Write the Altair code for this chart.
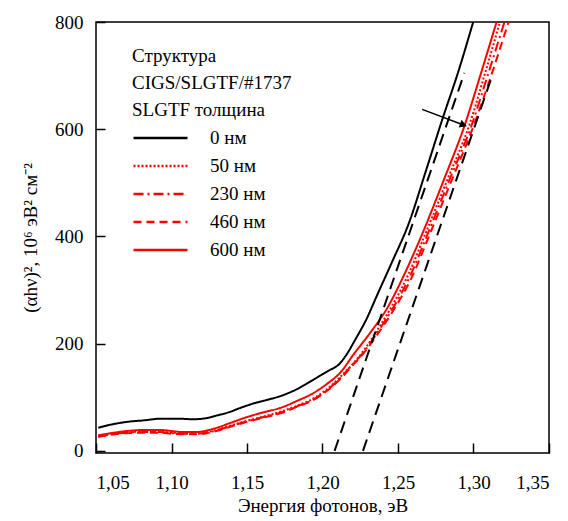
import math
import altair as alt
import pandas as pd

FONT = "Liberation Serif"
W, H = 453, 431
X_DOMAIN = [1.05, 1.35]
Y_DOMAIN = [-4, 800]

# Series definitions (legend order)
series_names = ["0 нм", "50 нм", "230 нм", "460 нм", "600 нм"]
series_colors = ["#000000", "#ff0000", "#ff0000", "#ff0000", "#ff0000"]
series_dashes = [[1, 0], [2, 2], [10, 4, 2, 4], [8, 5], [1, 0]]

# (alpha*h*nu)^2 vs photon energy for each SLGTF thickness
E_0 = [1.0515, 1.060, 1.0704, 1.082, 1.0924, 1.104, 1.1145, 1.123, 1.130, 1.138,
       1.1455, 1.155, 1.163, 1.172, 1.183, 1.1941, 1.203, 1.2118, 1.216, 1.2218,
       1.229, 1.2361, 1.246, 1.2571, 1.268, 1.2792, 1.290, 1.2998]
v_0 = [43, 49, 54, 57, 60, 60, 59, 61, 66, 72,
       80, 89, 95, 102, 115, 133, 148, 164, 180, 208,
       245, 290, 352, 424, 518, 617, 708, 800]

E_50 = [1.0515, 1.060, 1.0704, 1.082, 1.0924, 1.100, 1.1079, 1.116, 1.1234, 1.131,
        1.1389, 1.150, 1.161, 1.172, 1.183, 1.1941, 1.203, 1.2118, 1.2218, 1.2251,
        1.238, 1.246, 1.257, 1.268, 1.283, 1.2975, 1.3075, 1.3175]
v_50 = [28, 32, 35, 36, 35, 34, 33, 33, 35, 40,
        47, 56, 64, 73, 84, 98, 115, 138, 168, 179,
        233, 270, 330, 404, 508, 610, 703, 800]

E_230 = [1.0515, 1.060, 1.0704, 1.082, 1.0924, 1.100, 1.1079, 1.116, 1.1234, 1.131,
         1.1389, 1.150, 1.161, 1.172, 1.183, 1.1941, 1.203, 1.2118, 1.2218, 1.2251,
         1.239, 1.247, 1.258, 1.269, 1.284, 1.2987, 1.309, 1.3205]
v_230 = [27, 31, 34, 35, 35, 33, 32, 32, 34, 39,
         46, 55, 63, 71, 83, 96, 113, 136, 167, 177,
         232, 268, 326, 400, 505, 607, 697, 800]

E_460 = [1.0515, 1.060, 1.0704, 1.082, 1.0924, 1.100, 1.1079, 1.116, 1.1234, 1.131,
         1.1389, 1.150, 1.161, 1.172, 1.183, 1.1941, 1.203, 1.2118, 1.2218, 1.2251,
         1.2395, 1.2478, 1.259, 1.270, 1.285, 1.2995, 1.3105, 1.3232]
v_460 = [26, 30, 33, 34, 34, 32, 31, 31, 33, 38,
         45, 54, 62, 70, 82, 95, 112, 134, 165, 175,
         230, 266, 323, 397, 501, 602, 690, 800]

E_600 = [1.0515, 1.060, 1.0704, 1.082, 1.0924, 1.100, 1.1079, 1.116, 1.1234, 1.131,
         1.1389, 1.150, 1.161, 1.172, 1.183, 1.1941, 1.203, 1.2118, 1.2206, 1.231,
         1.2428, 1.254, 1.2649, 1.280, 1.2947, 1.3048, 1.3153]
v_600 = [29, 33, 37, 39, 39, 37, 35, 35, 38, 44,
         52, 63, 72, 80, 93, 108, 125, 146, 180, 218,
         266, 328, 397, 503, 612, 703, 800]

# Linear extrapolations of the absorption edge (band-gap estimates)
tangent_E = [[1.208, 1.294], [1.2268, 1.3124]]
tangent_v = [[0, 705], [0, 700]]

# Arrow marking the shift with increasing thickness
arrow_E = [1.266, 1.2934]
arrow_v = [637, 608]

x_ticks = [1.05, 1.10, 1.15, 1.20, 1.25, 1.30, 1.35]
y_ticks = [0, 200, 400, 600, 800]

series_E = [E_0, E_50, E_230, E_460, E_600]
series_v = [v_0, v_50, v_230, v_460, v_600]

rows = []
for name, xs, ys in zip(series_names, series_E, series_v):
    for i, (e, v) in enumerate(zip(xs, ys)):
        rows.append({"series": name, "E": e, "v": v, "i": i})
curves_df = pd.DataFrame(rows)

tan_rows = []
for k, (xs, ys) in enumerate(zip(tangent_E, tangent_v)):
    for i, (e, v) in enumerate(zip(xs, ys)):
        tan_rows.append({"line": k, "E": e, "v": v, "i": i})
tan_df = pd.DataFrame(tan_rows)

arrow_df = pd.DataFrame({"E": arrow_E, "v": arrow_v, "i": [0, 1]})
head_df = arrow_df.iloc[[1]]

# arrow head orientation in screen space
dx = (arrow_E[1] - arrow_E[0]) / (X_DOMAIN[1] - X_DOMAIN[0]) * W
dy = -(arrow_v[1] - arrow_v[0]) / (Y_DOMAIN[1] - Y_DOMAIN[0]) * H
head_angle = math.degrees(math.atan2(dy, dx))

x_scale = alt.Scale(domain=X_DOMAIN, nice=False, zero=False)
y_scale = alt.Scale(domain=Y_DOMAIN, nice=False, zero=False)

label_expr = "replace(format(datum.value, '.2f'), '.', ',')"

# Legend swatch: a horizontal stroke drawn from the left edge of the entry
legend = alt.Legend(
    title=["Структура", "CIGS/SLGTF/#1737", "SLGTF толщина"],
    orient="none",
    legendX=36,
    legendY=25,
    padding=0,
    titleFont=FONT,
    titleFontSize=19,
    titleFontWeight="normal",
    titleColor="black",
    titleLineHeight=27,
    titlePadding=3,
    labelFont=FONT,
    labelFontSize=19,
    labelColor="black",
    labelOffset=48,
    symbolType="M-1,0H3",
    symbolSize=729,
    symbolStrokeWidth=2.5,
    symbolFillColor="transparent",
    rowPadding=3,
)

curves = alt.Chart(curves_df).mark_line(
    strokeWidth=2, clip=True, interpolate="monotone"
).encode(
    x=alt.X("E:Q", scale=x_scale, axis=alt.Axis(
        orient="bottom", values=x_ticks, labelExpr=label_expr,
        ticks=False, domain=False, grid=False,
        labelFont=FONT, labelFontSize=19, labelColor="black", labelPadding=20,
        title="Энергия фотонов, эВ", titleFont=FONT, titleFontSize=19,
        titleFontWeight="normal", titleColor="black", titlePadding=4)),
    y=alt.Y("v:Q", scale=y_scale, axis=alt.Axis(
        orient="left", values=y_ticks,
        ticks=False, domain=False, grid=False,
        labelFont=FONT, labelFontSize=19, labelColor="black", labelPadding=13,
        title="(αhν)², 10⁶ эВ² см⁻²", titleFont=FONT, titleFontSize=19,
        titleFontWeight="normal", titleColor="black", titlePadding=14)),
    color=alt.Color("series:N", scale=alt.Scale(domain=series_names, range=series_colors),
                    legend=legend),
    strokeDash=alt.StrokeDash("series:N", scale=alt.Scale(domain=series_names, range=series_dashes),
                              legend=legend),
    order="i:Q",
    detail="series:N",
)

# Dashed tangents; this layer also carries the inward tick marks
tangents = alt.Chart(tan_df).mark_line(
    strokeWidth=2, strokeDash=[12, 7], color="black", clip=True
).encode(
    x=alt.X("E:Q", scale=x_scale, axis=alt.Axis(
        orient="top", offset=-H, values=x_ticks, labels=False, title=None,
        domain=False, grid=False, ticks=True, tickSize=10, tickWidth=1.5,
        tickColor="black")),
    y=alt.Y("v:Q", scale=y_scale, axis=alt.Axis(
        orient="right", offset=-W, values=y_ticks, labels=False, title=None,
        domain=False, grid=False, ticks=True, tickSize=9, tickWidth=1.5,
        tickColor="black")),
    detail="line:N",
    order="i:Q",
)

arrow_line = alt.Chart(arrow_df).mark_line(strokeWidth=1.5, color="black").encode(
    x=alt.X("E:Q", scale=x_scale, axis=None),
    y=alt.Y("v:Q", scale=y_scale, axis=None),
    order="i:Q",
)

arrow_head = alt.Chart(head_df).mark_point(
    shape="triangle-right", filled=True, color="black", size=70,
    angle=head_angle % 360, opacity=1
).encode(
    x=alt.X("E:Q", scale=x_scale, axis=None),
    y=alt.Y("v:Q", scale=y_scale, axis=None),
)

chart = alt.layer(curves, tangents, arrow_line, arrow_head).resolve_axis(
    x="independent", y="independent"
).properties(
    width=W, height=H,
    padding={"left": 96, "top": 22, "right": 19, "bottom": 68},
    autosize=alt.AutoSizeParams(type="none"),
    background="white",
).configure_view(stroke="black", strokeWidth=1.5)

chart.save("out.html", embed_options={"renderer": "svg", "actions": False})
